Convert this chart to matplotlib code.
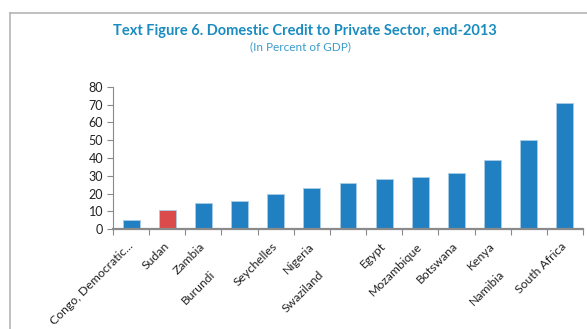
import matplotlib.pyplot as plt
from matplotlib.lines import Line2D
from matplotlib.transforms import ScaledTranslation

COUNTRIES = ["Congo, Democratic...", "Sudan", "Zambia", "Burundi", "Seychelles", "Nigeria",
             "Swaziland", "Egypt", "Mozambique", "Botswana", "Kenya", "Namibia", "South Africa"]
VALUES = [5.2, 10.8, 14.8, 16.1, 20.0, 23.0, 26.2, 28.1, 29.2, 31.4, 38.9, 50.1, 70.7]
HIGHLIGHT = "Sudan"
STAGGERED = ["Burundi", "Swaziland", "Namibia"]
Y_TICKS = [0, 10, 20, 30, 40, 50, 60, 70, 80]
TITLE = "Text Figure 6. Domestic Credit to Private Sector, end-2013"
SUBTITLE = "(In Percent of GDP)"

BLUE = "#2180c2"
RED = "#dc4b4b"
TITLE_COLOR = "#1a8cc0"
AXIS_GRAY = "#8a8a8a"


def main():
    plt.rcParams['font.family'] = ['Lato', 'DejaVu Sans']
    fig = plt.figure(figsize=(5.87, 3.29), dpi=100)
    ax = fig.add_axes([113 / 587, 1 - 229.3 / 329, 470 / 587, 142.6 / 329])

    x = list(range(len(COUNTRIES)))
    colors = [RED if c == HIGHLIGHT else BLUE for c in COUNTRIES]
    ax.bar(x, VALUES, width=0.47, color=colors, edgecolor="#a9cde8", linewidth=0.6, zorder=2)

    ax.set_xlim(-0.5, len(COUNTRIES) - 0.5)
    ax.set_ylim(0, 80)
    ax.set_yticks(Y_TICKS)
    ax.tick_params(axis='y', labelsize=9, colors=AXIS_GRAY, labelcolor="#222222",
                   length=4, width=0.8, pad=3)
    ax.set_xticks([i + 0.5 for i in x[:-1]] + [-0.5, len(COUNTRIES) - 0.5])
    ax.set_xticklabels([])
    ax.tick_params(axis='x', colors=AXIS_GRAY, length=4, width=0.8)

    for s in ["top", "right"]:
        ax.spines[s].set_visible(False)
    ax.spines["left"].set_color(AXIS_GRAY)
    ax.spines["left"].set_linewidth(0.8)
    ax.spines["bottom"].set_color(AXIS_GRAY)
    ax.spines["bottom"].set_linewidth(1.6)
    ax.spines["bottom"].set_zorder(3)

    trans = ax.get_xaxis_transform()
    for i, name in enumerate(COUNTRIES):
        dx, dy = 0 / 100, -15 / 100
        if name in STAGGERED:
            dx, dy = -26 / 100, -43 / 100
        t = trans + ScaledTranslation(dx, dy, fig.dpi_scale_trans)
        ax.text(i, 0, name, transform=t, rotation=45, rotation_mode='anchor',
                ha='right', va='center', fontsize=8.8, color="#222222")

    fig.text(305 / 587, 1 - 31 / 329, TITLE, ha='center', va='center',
             fontsize=10.5, fontweight='bold', color=TITLE_COLOR)
    fig.text(300 / 587, 1 - 47 / 329, SUBTITLE, ha='center', va='center',
             fontsize=8.5, color="#3a9ccc")

    # outer frame (only top and left edges visible in the crop)
    fig.add_artist(Line2D([10 / 587, 10 / 587], [0, 1 - 12.5 / 329], transform=fig.transFigure,
                          color="#b5b5b5", linewidth=1.2))
    fig.add_artist(Line2D([10 / 587, 1], [1 - 12.5 / 329, 1 - 12.5 / 329], transform=fig.transFigure,
                          color="#b5b5b5", linewidth=1.2))

    plt.savefig("out.png", dpi=100)


if __name__ == "__main__":
    main()
